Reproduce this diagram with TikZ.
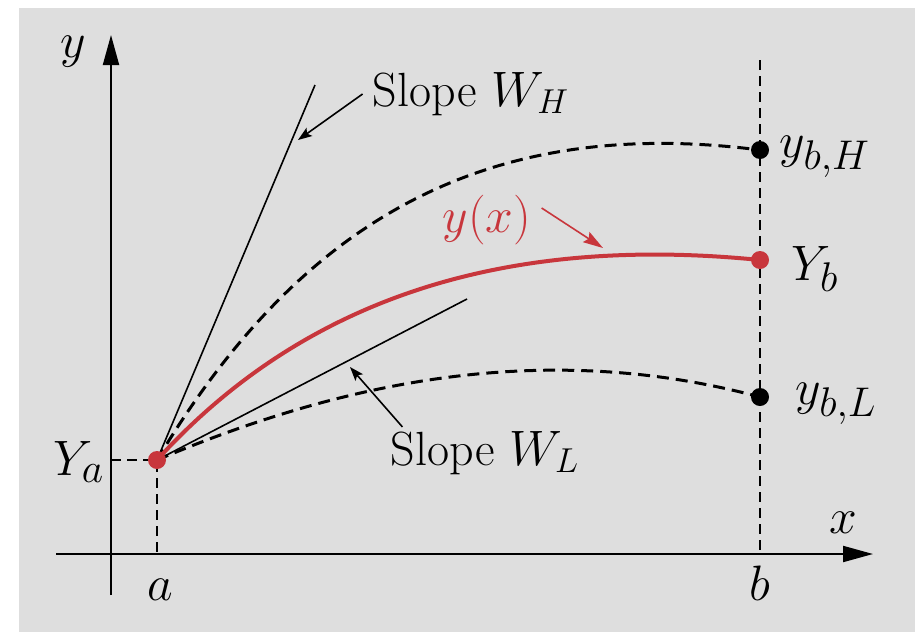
\documentclass[tikz,border=0pt]{standalone}
\usetikzlibrary{arrows.meta}
\definecolor{cSol}{HTML}{C8363C}
\definecolor{cFondo}{HTML}{DEDEDE}
\tikzset{
    axis/.style={line width=1pt, -{Triangle[length=15pt, width=8pt]}},
    guide/.style={line width=0.9pt, dash pattern=on 5pt off 3pt},
    trial/.style={line width=1.5pt, dash pattern=on 6pt off 3.5pt},
    sol/.style={line width=2pt, cSol},
    slopeln/.style={line width=0.8pt},
    pointer/.style={line width=0.8pt, -{Stealth[length=7pt, width=5pt, inset=1.5pt]}},
    lbl/.style={inner sep=0pt, font=\fontsize{31}{36}\selectfont},
    txt/.style={inner sep=0pt, font=\fontsize{24}{28}\selectfont},
    dotk/.style={circle, fill=black, inner sep=0pt, minimum size=9pt},
    dotr/.style={dotk, fill=cSol},
}

\begin{document}
\begin{tikzpicture}[x=0.5pt, y=-0.5pt]

\useasboundingbox (0,0) rectangle (915,632);
\fill[white] (0,0) rectangle (915,632);
\fill[cFondo] (19,8) rectangle (915,632);

\coordinate (yBot) at (111,595);
\coordinate (yTop) at (111,35);
\coordinate (xLft) at (56,554);
\coordinate (xRgt) at (873,554);
\draw[axis] (yBot) -- (yTop);
\draw[axis] (xLft) -- (xRgt);

\coordinate (Ya)   at (157,460);
\coordinate (aAx)  at (157,554);
\coordinate (aYx)  at (111,460);
\coordinate (bTop) at (760,60);
\coordinate (bAx)  at (760,554);
\coordinate (bH)   at (760,150);
\coordinate (bM)   at (760,260);
\coordinate (bL)   at (760,397);
\draw[guide] (aYx) -- (Ya) -- (aAx);
\draw[guide] (bTop) -- (bAx);

\coordinate (wH) at (315,85);
\coordinate (wL) at (467,299);
\draw[slopeln] (Ya) -- (wH);
\draw[slopeln] (Ya) -- (wL);

\draw[trial] (Ya) .. controls (297,226) and (480,114) .. (bH);
\draw[trial] (Ya) .. controls (337,384) and (540,338) .. (bL);
\draw[sol]   (Ya) .. controls (307,295) and (510,235) .. (bM);

\node[dotr] (dA) at (Ya) {};
\node[dotr] (dM) at (bM) {};
\foreach \pt/\nm in {bH/dH, bL/dL}{%
    \node[dotk] (\nm) at (\pt) {};}

\node[lbl] (ly)  at (73,52)   {$y$};
\node[lbl] (lx)  at (843,523) {$x$};
\node[lbl] (la)  at (160,590) {$a$};
\node[lbl] (lb)  at (760,583) {$b$};
\node[lbl] (lYa) at (79,462)  {$Y_a$};
\node[lbl] (lYb) at (815,269) {$Y_b$};
\node[lbl] (lbH) at (825,157) {$y_{b,H}$};
\node[lbl] (lbL) at (836,404) {$y_{b,L}$};
\node[txt] (slH) at (471,94)  {Slope $W_H$};
\node[txt] (slL) at (485,453) {Slope $W_L$};
\node[lbl, font=\fontsize{29}{34}\selectfont, text=cSol] (yx) at (487,220) {$y(x)$};

\coordinate (tipH) at (298,140);
\coordinate (tipL) at (350,367);
\coordinate (tipY) at (603,248);
\draw[pointer] ([xshift=-5pt]slH.west) -- (tipH);
\draw[pointer] ([xshift=6pt, yshift=2pt]slL.north west) -- (tipL);
\draw[pointer, cSol, -{Stealth[length=10pt, width=6pt, inset=1.5pt]}]
    ([xshift=5pt, yshift=6pt]yx.east) -- (tipY);

\end{tikzpicture}
\end{document}
